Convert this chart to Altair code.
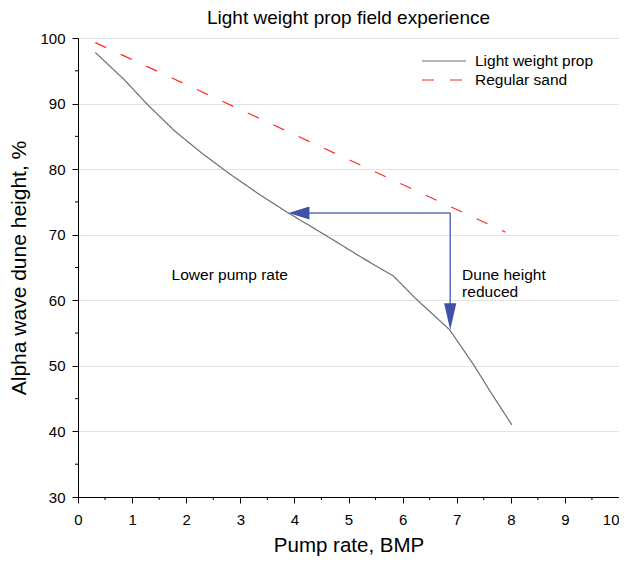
import altair as alt
import pandas as pd

# Data
lw_x = [0.32, 0.86, 1.29, 1.79, 2.28, 2.8, 3.36, 3.89, 4.5, 5.27, 5.83, 6.25, 6.87, 7.31, 7.65, 8.02]
lw_y = [97.8, 93.6, 89.8, 85.8, 82.5, 79.3, 76.1, 73.3, 70.3, 66.4, 63.7, 60.2, 55.5, 50.2, 45.7, 41.0]
rs_x = [0.32, 7.9]
rs_y = [99.3, 70.4]
series_names = ["Light weight prop", "Regular sand"]
series_colors = ["#6e6e6e", "#ff2a2a"]

arrow_h_x = [6.88, 4.0]
arrow_h_y = [73.3, 73.3]
arrow_v_x = [6.88, 6.88]
arrow_v_y = [73.3, 58.0]
head_left = {"x": 3.89, "y": 73.3}
head_down = {"x": 6.88, "y": 55.5}

notes_x = [1.73, 7.1, 7.1]
notes_y = [63.8, 63.9, 61.3]
notes_text = ["Lower pump rate", "Dune height", "reduced"]

x_minor = [0.5 + i for i in range(10)]
y_minor = [35 + 10 * i for i in range(7)]

FONT = "Liberation Sans"
W, H = 541, 459

lines = pd.DataFrame(
    {"x": lw_x + rs_x,
     "y": lw_y + rs_y,
     "series": [series_names[0]] * len(lw_x) + [series_names[1]] * len(rs_x),
     "order": list(range(len(lw_x))) + list(range(len(rs_x)))}
)

xscale = alt.Scale(domain=[0, 10], nice=False, zero=False)
yscale = alt.Scale(domain=[30, 100], nice=False, zero=False)

base_x = alt.X("x:Q", scale=xscale,
               axis=alt.Axis(title="Pump rate, BMP", values=list(range(11)), format="d",
                             grid=False, tickSize=6, labelPadding=9, labelFontSize=15,
                             labelAlign=alt.expr("datum.value == 10 ? 'right' : 'center'"),
                             titleFontSize=20.5, titleFontWeight="normal", titlePadding=8,
                             labelFont=FONT, titleFont=FONT, domainColor="black",
                             tickColor="black", labelColor="black", titleColor="black"))
base_y = alt.Y("y:Q", scale=yscale,
               axis=alt.Axis(title="Alpha wave dune height, %", values=list(range(30, 101, 10)),
                             grid=True, gridColor="#e3e3e3", tickSize=6, labelPadding=7,
                             labelFontSize=15, titleFontSize=21, titleFontWeight="normal",
                             titlePadding=10, labelFont=FONT, titleFont=FONT,
                             domainColor="black", tickColor="black", labelColor="black",
                             titleColor="black"))

line_layer = alt.Chart(lines).mark_line(strokeWidth=1.2).encode(
    x=base_x, y=base_y,
    color=alt.Color("series:N", scale=alt.Scale(domain=series_names, range=series_colors),
                    legend=alt.Legend(title=None, orient="none", legendX=343, legendY=13.5,
                                      symbolType="stroke", symbolSize=1936, symbolStrokeWidth=1.2,
                                      labelFontSize=15.5, labelFont=FONT, labelColor="black",
                                      labelOffset=8, clipHeight=19, rowPadding=0)),
    strokeDash=alt.StrokeDash("series:N",
                              scale=alt.Scale(domain=series_names, range=[[1, 0], [12, 16]]),
                              legend=None),
    order="order:Q",
)

arr_df = pd.DataFrame({"x": arrow_h_x, "y": arrow_h_y, "g": ["h", "h"]})
arr_v_df = pd.DataFrame({"x": arrow_v_x, "y": arrow_v_y, "g": ["v", "v"]})
arrow_lines = alt.Chart(pd.concat([arr_df, arr_v_df])).mark_line(
    color="#5b6fc2", strokeWidth=1.5).encode(
    x=alt.X("x:Q", scale=xscale), y=alt.Y("y:Q", scale=yscale), detail="g:N")

head_l = alt.Chart(pd.DataFrame([head_left])).mark_point(
    shape="M 0 0 L 2 -0.62 L 2 0.62 Z", size=441, filled=True, opacity=1,
    color="#3f51a8", strokeWidth=0).encode(
    x=alt.X("x:Q", scale=xscale), y=alt.Y("y:Q", scale=yscale))
head_d = alt.Chart(pd.DataFrame([head_down])).mark_point(
    shape="M 0 0 L -0.46 -2 L 0.46 -2 Z", size=708, filled=True, opacity=1,
    color="#3f51a8", strokeWidth=0).encode(
    x=alt.X("x:Q", scale=xscale), y=alt.Y("y:Q", scale=yscale))

notes = alt.Chart(pd.DataFrame({"x": notes_x, "y": notes_y, "t": notes_text})).mark_text(
    align="left", baseline="middle", fontSize=15.5, font=FONT, color="black").encode(
    x=alt.X("x:Q", scale=xscale), y=alt.Y("y:Q", scale=yscale), text="t:N")

xm = alt.Chart(pd.DataFrame({"x": x_minor})).mark_rule(color="black", strokeWidth=1).encode(
    x=alt.X("x:Q", scale=xscale), y=alt.value(H), y2=alt.value(H + 3))
ym = alt.Chart(pd.DataFrame({"y": y_minor})).mark_rule(color="black", strokeWidth=1).encode(
    y=alt.Y("y:Q", scale=yscale), x=alt.value(0), x2=alt.value(-3))

chart = alt.layer(line_layer, arrow_lines, head_l, head_d, notes, xm, ym).properties(
    width=W, height=H,
    title=alt.Title("Light weight prop field experience", fontSize=19, fontWeight="normal",
                    font=FONT, color="black", offset=3),
    autosize=alt.AutoSizeParams(type="none"),
    padding={"left": 70, "top": 30, "right": 0, "bottom": 59},
).configure_view(stroke="black", strokeWidth=1).configure(background="white")

chart.save("out.html", embed_options={"renderer": "svg", "actions": False})
